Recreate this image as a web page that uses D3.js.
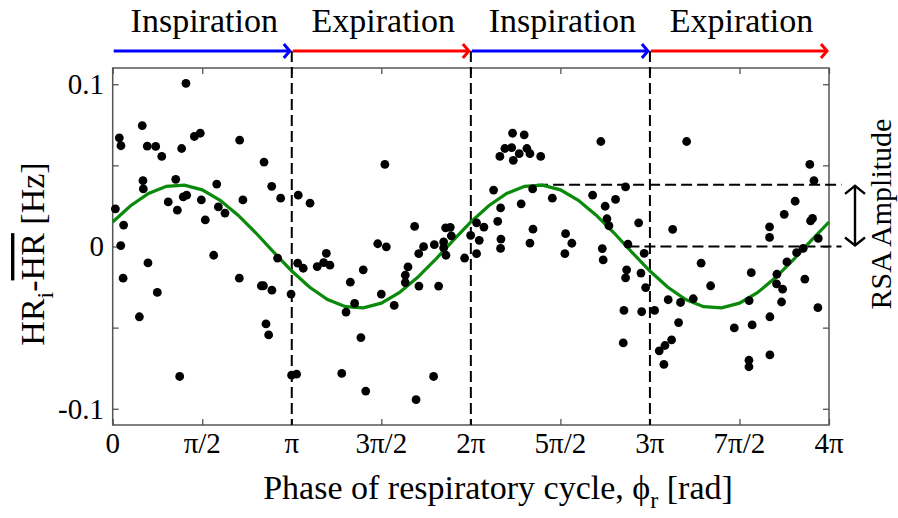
<!DOCTYPE html>
<html>
<head>
<meta charset="utf-8">
<script src="https://cdn.jsdelivr.net/npm/d3@7"></script>
<style>
  body { margin: 0; background: #fff; }
  svg text { font-family: "Liberation Serif", "DejaVu Serif", serif; }
</style>
</head>
<body>
<script>
// phase values are stored in units of pi
const phaseTicks = [0, 0.5, 1, 1.5, 2, 2.5, 3, 3.5, 4];
const phaseTickLabels = ['0', 'π/2', 'π', '3π/2', '2π', '5π/2', '3π', '7π/2', '4π'];
const hrTicks = [-0.1, -0.05, 0, 0.05, 0.1];
const hrTickLabels = ['-0.1', '', '0', '', '0.1'];

const cycleNames = ['Inspiration', 'Expiration', 'Inspiration', 'Expiration'];
const cycleBounds = [0, 1, 2, 3, 4];

const samplePhase = [
  0.409, 0.165, 0.037, 0.046, 0.193, 0.240, 0.274, 0.385, 0.456, 0.489,
  0.709, 0.845, 0.169, 0.171, 0.352, 0.310, 0.361, 0.394, 0.413, 0.495,
  0.517, 0.581, 0.590, 0.627, 0.727, 0.888, 0.938, 0.015, 0.061, 0.045,
  1.036, 0.058, 0.197, 0.249, 0.149, 0.564, 0.707, 0.830, 0.842, 0.889,
  0.921, 0.856, 0.871, 0.374, 0.996, 0.999, 1.027, 1.033, 1.520, 1.102,
  1.686, 1.859, 1.885, 1.891, 1.480, 1.528, 1.736, 1.796, 1.848, 1.848,
  1.999, 2.032, 2.047, 1.861, 1.709, 1.965, 2.032, 1.193, 1.064, 1.142,
  1.178, 1.213, 1.399, 1.649, 1.634, 1.634, 1.710, 1.820, 1.327, 1.500,
  1.351, 1.303, 1.572, 1.386, 1.279, 1.413, 1.792, 1.694, 2.233, 2.298,
  2.190, 2.228, 2.313, 2.162, 2.237, 2.270, 2.330, 2.390, 2.726, 2.127,
  2.345, 2.455, 2.281, 2.166, 2.150, 2.073, 2.168, 2.347, 2.330, 2.529,
  2.564, 2.680, 2.750, 2.808, 2.864, 2.760, 2.771, 2.937, 2.734, 2.877,
  2.166, 2.525, 2.739, 2.968, 2.870, 2.864, 2.950, 2.976, 2.855, 2.954,
  3.026, 2.851, 3.052, 3.205, 3.893, 3.916, 3.811, 3.750, 3.127, 3.668,
  3.668, 3.897, 3.908, 3.940, 3.286, 3.339, 3.566, 3.242, 3.171, 3.102,
  3.160, 3.121, 3.084, 3.078, 3.471, 3.571, 3.554, 3.670, 3.553, 3.553,
  3.670, 3.709, 3.707, 3.741, 3.735, 3.765, 3.819, 3.856, 3.865, 3.938
];
const sampleHr = [
  0.1005, 0.0745, 0.0670, 0.0621, 0.0618, 0.0617, 0.0555, 0.0604, 0.0678, 0.0698,
  0.0655, 0.0520, 0.0406, 0.0355, 0.0414, 0.0275, 0.0224, 0.0306, 0.0316, 0.0287,
  0.0164, 0.0385, 0.0244, 0.0206, 0.0287, 0.0371, 0.0298, 0.0232, 0.0132, 0.0006,
  0.0316, -0.0195, -0.0101, -0.0283, -0.0433, -0.0054, -0.0195, -0.0242, -0.0242, -0.0269,
  -0.0072, -0.0477, -0.0545, -0.0801, -0.0293, -0.0793, -0.0787, -0.0103, 0.0506, 0.0267,
  0.0124, 0.0115, 0.0118, 0.0066, 0.0017, -0.0002, -0.0001, 0.0011, 0.0028, -0.0009,
  0.0069, 0.0146, 0.0038, -0.0054, -0.0044, -0.0071, -0.0044, -0.0042, -0.0134, -0.0124,
  -0.0099, -0.0115, -0.0144, -0.0126, -0.0177, -0.0222, -0.0244, -0.0244, -0.0220, -0.0293,
  -0.0351, -0.0404, -0.0363, -0.0561, -0.0782, -0.0891, -0.0801, -0.0944, 0.0698, 0.0688,
  0.0604, 0.0609, 0.0604, 0.0555, 0.0531, 0.0572, 0.0572, 0.0555, 0.0647, 0.0348,
  0.0355, 0.0298, 0.0263, 0.0238, 0.0155, 0.0120, 0.0046, 0.0107, 0.0021, 0.0079,
  0.0020, 0.0316, 0.0248, 0.0290, 0.0367, 0.0171, 0.0128, 0.0146, -0.0013, 0.0015,
  -0.0012, -0.0044, -0.0083, -0.0042, -0.0144, -0.0193, -0.0164, -0.0253, -0.0394, -0.0402,
  -0.0394, -0.0594, -0.0643, 0.0647, 0.0506, 0.0406, 0.0279, 0.0198, 0.0106, 0.0121,
  0.0056, 0.0158, 0.0173, 0.0050, -0.0103, -0.0242, -0.0161, -0.0322, -0.0345, -0.0328,
  -0.0469, -0.0575, -0.0610, -0.0727, -0.0502, -0.0483, -0.0333, -0.0433, -0.0701, -0.0741,
  -0.0668, -0.0171, -0.0230, -0.0263, -0.0342, -0.0095, -0.0038, -0.0011, -0.0201, -0.0377
];

const fitPhase = [
  0.0, 0.1, 0.2, 0.3, 0.4, 0.5, 0.6, 0.7, 0.8, 0.9,
  1.0, 1.1, 1.2, 1.3, 1.4, 1.5, 1.6, 1.7, 1.8, 1.9,
  2.0, 2.1, 2.2, 2.3, 2.4, 2.5, 2.6, 2.7, 2.8, 2.9,
  3.0, 3.1, 3.2, 3.3, 3.4, 3.5, 3.6, 3.7, 3.8, 3.9, 4.0
];
const fitHr = [
  0.0151, 0.0251, 0.0327, 0.0371, 0.0378, 0.0349, 0.0285, 0.0193, 0.0083, -0.0036,
  -0.0151, -0.0251, -0.0327, -0.0371, -0.0378, -0.0349, -0.0285, -0.0193, -0.0083, 0.0036,
  0.0151, 0.0251, 0.0327, 0.0371, 0.0378, 0.0349, 0.0285, 0.0193, 0.0083, -0.0036,
  -0.0151, -0.0251, -0.0327, -0.0371, -0.0378, -0.0349, -0.0285, -0.0193, -0.0083, 0.0036,
  0.0151
];

const rsaPeak = 0.038;
const rsaPeakPhase = 2.37;
const rsaZeroPhase = 2.88;
const rsaLineEnd = 4.07;

(function () {
    const width = 898;
    const height = 518;
    const PI = Math.PI;

    const svg = d3.select('body')
        .append('svg')
        .attr('width', width)
        .attr('height', height)
        .attr('font-family', '"Liberation Serif", "DejaVu Serif", serif');

    const x = d3.scaleLinear().domain([0, 4 * PI]).range([112.7, 829]);
    const y = d3.scaleLinear().domain([-0.11, 0.11]).range([425, 68]);
    const px = d => x(d * PI);

    const top = y.range()[1];
    const bottom = y.range()[0];
    const arrowY = 51;

    // frame + inward ticks
    const frameColor = '#555';
    const xTickVals = phaseTicks.map(d => d * PI);

    const axes = [
        d3.axisBottom(x).tickValues(xTickVals).tickSize(-6).tickFormat(''),
        d3.axisTop(x).tickValues(xTickVals).tickSize(-6).tickFormat(''),
        d3.axisLeft(y).tickValues(hrTicks).tickSize(-6).tickFormat(''),
        d3.axisRight(y).tickValues(hrTicks).tickSize(-6).tickFormat('')
    ];
    const shifts = [`translate(0,${bottom})`, `translate(0,${top})`, `translate(${x.range()[0]},0)`, `translate(${x.range()[1]},0)`];
    axes.forEach((ax, i) => {
        const g = svg.append('g').attr('transform', shifts[i]).call(ax);
        g.select('.domain').remove();
        g.selectAll('line').attr('stroke', frameColor).attr('stroke-width', 1.3);
    });

    svg.append('rect')
        .attr('x', x.range()[0])
        .attr('y', top)
        .attr('width', x.range()[1] - x.range()[0])
        .attr('height', bottom - top)
        .attr('fill', 'none')
        .attr('stroke', frameColor)
        .attr('stroke-width', 1.5);

    // tick labels
    svg.append('g')
        .selectAll('text')
        .data(phaseTicks)
        .join('text')
        .attr('x', px)
        .attr('y', 453)
        .attr('text-anchor', 'middle')
        .style('font-size', '29px')
        .text((d, i) => phaseTickLabels[i]);

    svg.append('g')
        .selectAll('text')
        .data(hrTicks)
        .join('text')
        .attr('x', 104)
        .attr('y', d => y(d))
        .attr('dy', '0.34em')
        .attr('text-anchor', 'end')
        .style('font-size', '29px')
        .text((d, i) => hrTickLabels[i]);

    // cycle boundaries
    svg.append('g')
        .selectAll('line')
        .data(cycleBounds.slice(1, -1))
        .join('line')
        .attr('x1', px).attr('x2', px)
        .attr('y1', arrowY).attr('y2', bottom)
        .attr('stroke', '#000')
        .attr('stroke-width', 2)
        .attr('stroke-dasharray', '11,5');

    // RSA amplitude guides
    const guides = svg.append('g')
        .attr('stroke', '#000')
        .attr('stroke-width', 2)
        .attr('stroke-dasharray', '11,5');
    guides.append('line')
        .attr('x1', px(rsaPeakPhase)).attr('x2', px(rsaLineEnd))
        .attr('y1', y(rsaPeak)).attr('y2', y(rsaPeak));
    guides.append('line')
        .attr('x1', px(rsaZeroPhase)).attr('x2', px(rsaLineEnd))
        .attr('y1', y(0)).attr('y2', y(0));

    const ax = 855;
    const arr = svg.append('g')
        .attr('stroke', '#000')
        .attr('stroke-width', 2.4)
        .attr('fill', 'none');
    arr.append('line')
        .attr('x1', ax).attr('x2', ax)
        .attr('y1', y(rsaPeak) + 1).attr('y2', y(0) - 1);
    arr.append('path')
        .attr('d', `M${ax - 10},${y(rsaPeak) + 9}L${ax},${y(rsaPeak) + 1}L${ax + 10},${y(rsaPeak) + 9}`);
    arr.append('path')
        .attr('d', `M${ax - 10},${y(0) - 9}L${ax},${y(0) - 1}L${ax + 10},${y(0) - 9}`);

    svg.append('text')
        .attr('transform', `translate(891,214) rotate(-90)`)
        .attr('text-anchor', 'middle')
        .style('font-size', '30px')
        .text('RSA Amplitude');

    // breathing phase arrows
    const arrowColors = ['#0000ff', '#ff0000'];
    const cycles = cycleNames.map((name, i) => ({ name, start: cycleBounds[i], end: cycleBounds[i + 1], i }));

    const cg = svg.append('g');
    cg.selectAll('line')
        .data(cycles)
        .join('line')
        .attr('x1', d => px(d.start) + 1)
        .attr('x2', d => px(d.end) - 2)
        .attr('y1', arrowY).attr('y2', arrowY)
        .attr('stroke', d => arrowColors[d.i % 2])
        .attr('stroke-width', 3.2);
    cg.selectAll('path')
        .data(cycles)
        .join('path')
        .attr('d', d => {
            const e = px(d.end) - 2;
            return `M${e - 6},${arrowY - 7}L${e},${arrowY}L${e - 6},${arrowY + 7}`;
        })
        .attr('fill', 'none')
        .attr('stroke', d => arrowColors[d.i % 2])
        .attr('stroke-width', 3);
    cg.selectAll('text')
        .data(cycles)
        .join('text')
        .attr('x', d => (px(d.start) + px(d.end)) / 2 + 2)
        .attr('y', 32)
        .attr('text-anchor', 'middle')
        .style('font-size', '34px')
        .text(d => d.name);

    // fitted curve
    const line = d3.line()
        .x((d, i) => px(fitPhase[i]))
        .y(d => y(d));
    svg.append('path')
        .datum(fitHr)
        .attr('d', line)
        .attr('fill', 'none')
        .attr('stroke', '#0a8a0a')
        .attr('stroke-width', 3.2);

    // samples
    svg.append('g')
        .selectAll('circle')
        .data(sampleHr)
        .join('circle')
        .attr('cx', (d, i) => px(samplePhase[i]))
        .attr('cy', d => y(d))
        .attr('r', 4.4)
        .attr('fill', '#000');

    // axis titles
    const xl = svg.append('text')
        .attr('x', 498)
        .attr('y', 499)
        .attr('text-anchor', 'middle')
        .style('font-size', '34px');
    xl.append('tspan').text('Phase of respiratory cycle, ϕ');
    xl.append('tspan').attr('dy', 9).style('font-size', '24px').text('r');
    xl.append('tspan').attr('dy', -9).text(' [rad]');

    const yl = svg.append('text')
        .attr('transform', 'translate(44,254) rotate(-90)')
        .attr('text-anchor', 'middle')
        .style('font-size', '34px');
    yl.append('tspan').text('HR');
    yl.append('tspan').attr('dy', 9).style('font-size', '24px').text('i');
    yl.append('tspan').attr('dy', -9).text('-');
    yl.append('tspan').style('text-decoration', 'overline').text('HR');
    yl.append('tspan').text(' [Hz]');
})();
</script>
</body>
</html>
